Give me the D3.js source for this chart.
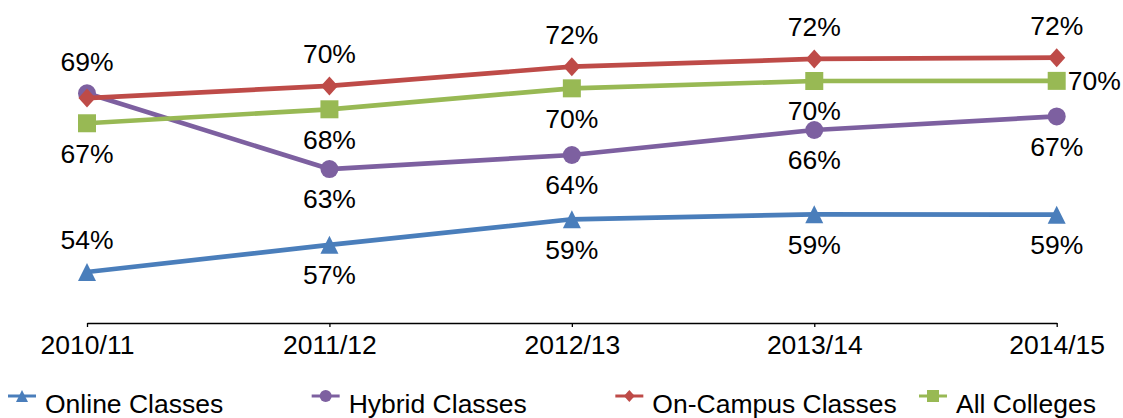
<!DOCTYPE html>
<html>
<head>
<meta charset="utf-8">
<script src="https://cdn.jsdelivr.net/npm/d3@7"></script>
<style>
  html, body { margin: 0; padding: 0; background: #fff; }
  svg { display: block; font-family: "Liberation Sans", Arial, sans-serif; }
</style>
</head>
<body>
<figure id="chart" style="margin:0"></figure>
<script>
// chart data
const years = ["2010/11", "2011/12", "2012/13", "2013/14", "2014/15"];
const seriesNames = ["Online Classes", "Hybrid Classes", "On-Campus Classes", "All Colleges"];
const online = [54.31, 56.6, 58.76, 59.18, 59.15];
const hybrid = [69.4, 63.0, 64.19, 66.3, 67.45];
const onCampus = [69.0, 70.02, 71.65, 72.3, 72.41];
const allColleges = [66.87, 68.05, 69.82, 70.44, 70.45];

const width = 1123;
const height = 418;
const fontSize = "26.5px";

// styling per series
const colors = ["#4a7ebb", "#7d60a0", "#be4b48", "#98b954"];
const shapes = ["triangle", "circle", "diamond", "square"];
// where each data label goes (null = hidden)
const labelPos = [
  ["above", "below", "below", "below", "below"],
  ["above", "below", "below", "below", "below"],
  [null, "above", "above", "above", "above"],
  ["below", "below", "below", "below", "right"]
];

const values = [online, hybrid, onCampus, allColleges];

const x = d3.scalePoint().domain(years).range([87, 1056.7]);
const y = d3.scaleLinear().domain([50, 75]).range([323, 27]);

const svg = d3.select("#chart")
  .append("svg")
  .attr("width", width)
  .attr("height", height);

// marker path centred on 0,0
function marker(shape, s) {
  const h = s / 2;
  if (shape === "circle") return d3.symbol(d3.symbolCircle, Math.PI * h * h)();
  if (shape === "square") return `M${-h},${-h}H${h}V${h}H${-h}Z`;
  if (shape === "diamond") return `M0,${-h}L${h * 0.9},0L0,${h}L${-h * 0.9},0Z`;
  return `M0,${-h}L${h},${h}L${-h},${h}Z`;
}

// category axis
const axis = svg.append("g")
  .attr("transform", `translate(0,${y(50)})`)
  .call(d3.axisBottom(x).tickSizeInner(4).tickSizeOuter(0).tickPadding(6));
axis.select(".domain").attr("stroke", "#000").attr("stroke-width", 1.3);
axis.selectAll(".tick line").attr("stroke", "#000").attr("stroke-width", 1.3);
axis.selectAll(".tick text")
  .attr("fill", "#000")
  .style("font-size", fontSize)
  .attr("dy", "0.78em");

const line = d3.line()
  .x((d, i) => x(years[i]))
  .y(d => y(d));

values.forEach((vals, s) => {
  const g = svg.append("g");

  g.append("path")
    .datum(vals)
    .attr("d", line)
    .attr("fill", "none")
    .attr("stroke", colors[s])
    .attr("stroke-width", 4.7)
    .attr("stroke-linejoin", "round");

  g.selectAll("path.mark")
    .data(vals)
    .enter()
    .append("path")
    .attr("class", "mark")
    .attr("d", marker(shapes[s], shapes[s] === "diamond" ? 19 : 18))
    .attr("transform", (d, i) => `translate(${x(years[i])},${y(d)})`)
    .attr("fill", colors[s]);
});

// data labels
values.forEach((vals, s) => {
  svg.append("g").selectAll("text")
    .data(vals.map((v, i) => ({ v, i, pos: labelPos[s][i] })).filter(d => d.pos))
    .enter()
    .append("text")
    .attr("x", d => x(years[d.i]) + (d.pos === "right" ? 11 : 0))
    .attr("y", d => y(d.v) + (d.pos === "above" ? -32 : d.pos === "below" ? 30 : 0))
    .attr("dy", "0.35em")
    .attr("text-anchor", d => d.pos === "right" ? "start" : "middle")
    .style("font-size", fontSize)
    .attr("fill", "#000")
    .text(d => Math.round(d.v) + "%");
});

// legend
const legend = svg.append("g").attr("transform", "translate(0,396)");
const legendX = d3.scalePoint().domain(seriesNames).range([22, 933]);

const item = legend.selectAll("g")
  .data(seriesNames)
  .enter()
  .append("g")
  .attr("transform", d => `translate(${legendX(d)},0)`);

item.append("line")
  .attr("x1", -14).attr("x2", 14)
  .attr("stroke", (d, i) => colors[i])
  .attr("stroke-width", 3);

item.append("path")
  .attr("d", (d, i) => marker(shapes[i], 12))
  .attr("fill", (d, i) => colors[i]);

item.append("text")
  .attr("x", 23)
  .attr("y", 17)
  .style("font-size", fontSize)
  .attr("fill", "#000")
  .text(d => d);
</script>
</body>
</html>
